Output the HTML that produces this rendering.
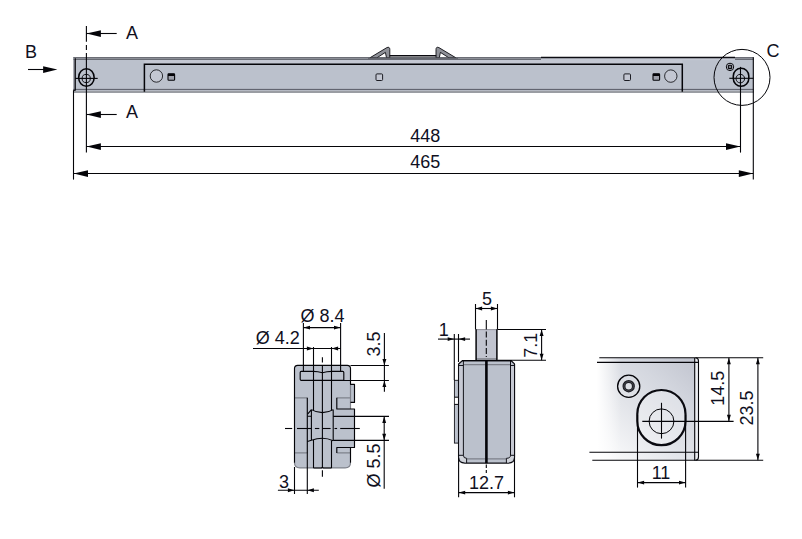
<!DOCTYPE html>
<html lang="en">
<head>
<meta charset="utf-8">
<title>Technical drawing</title>
<style>
html,body{margin:0;padding:0;background:#fff;}
body{width:802px;height:539px;overflow:hidden;}
svg{display:block;}
text{font-family:"Liberation Sans",sans-serif;}
</style>
</head>
<body>
<svg width="802" height="539" viewBox="0 0 802 539">
<defs>
<linearGradient id="gC" x1="0" y1="1" x2="1" y2="0">
<stop offset="0" stop-color="#ffffff"/>
<stop offset="0.2" stop-color="#f3f4f6"/>
<stop offset="0.45" stop-color="#e2e4e9"/>
<stop offset="0.7" stop-color="#d4d7df"/>
<stop offset="1" stop-color="#c0c3ce"/>
</linearGradient>
<linearGradient id="gC2" x1="0" y1="0" x2="1" y2="0">
<stop offset="0" stop-color="#ffffff" stop-opacity="1"/>
<stop offset="0.08" stop-color="#ffffff" stop-opacity="1"/>
<stop offset="0.3" stop-color="#ffffff" stop-opacity="0"/>
</linearGradient>
</defs>
<rect width="802" height="539" fill="#ffffff"/>
<g id="topview">
<rect x="73.5" y="57" width="680.1" height="36" fill="#bbc1cc"/>
<rect x="73.5" y="57" width="1.4" height="36" fill="#7a7c85"/>
<rect x="73.4" y="57" width="680.2" height="1" fill="#6c6e76"/>
<rect x="73.4" y="58" width="680.2" height="1" fill="#8b8e96"/>
<rect x="73.4" y="59" width="680.2" height="1" fill="#686b74"/>
<rect x="144.4" y="60" width="538" height="3.4" fill="#c4c8d3"/>
<rect x="73.4" y="88.9" width="680.2" height="1" fill="#4f525c"/>
<rect x="73.4" y="89.9" width="680.2" height="1" fill="#b9bdc7"/>
<rect x="73.4" y="90.9" width="680.2" height="2.1" fill="#9a9da3"/>
<path d="M369.9,57.8 L386.9,47.6 Q389.7,46.4 389.8,49.4 L389.8,57.8 L386.5,57.8 L385.4,52.4 L376.9,57.8 Z" fill="#8f9198" stroke="#0d0d12" stroke-width="0.9" stroke-linejoin="round"/>
<path d="M455.9,57.8 L438.9,47.6 Q436.1,46.4 436,49.4 L436,57.8 L439.3,57.8 L440.4,52.4 L448.9,57.8 Z" fill="#8f9198" stroke="#0d0d12" stroke-width="0.9" stroke-linejoin="round"/>
<line x1="389.6" y1="55.8" x2="436.2" y2="55.8" stroke="#0a0a10" stroke-width="1.6" />
<rect x="368" y="57.6" width="90" height="1.5" fill="#64666e"/>
<rect x="541" y="58" width="194" height="2.2" fill="#c4c8d3"/>
<line x1="541" y1="57.5" x2="735" y2="57.5" stroke="#0c0c12" stroke-width="1.3" />
<path d="M144.4,91.7 L144.4,64.2 L682.3,64.2 L682.3,91.7" fill="none" stroke="#040408" stroke-width="1.5"/>
<line x1="75.3" y1="58.3" x2="75.3" y2="90.6" stroke="#040408" stroke-width="1.1" />
<line x1="753.3" y1="57.3" x2="753.3" y2="92" stroke="#040408" stroke-width="1.1" />
<circle cx="156.4" cy="76" r="6.2" fill="#c3c7d2" stroke="#040408" stroke-width="0.8"/>
<circle cx="670.8" cy="76.1" r="6.2" fill="#c3c7d2" stroke="#040408" stroke-width="0.8"/>
<rect x="168" y="73.8" width="6.6" height="6.4" rx="0.8" fill="#9da0aa" stroke="#040408" stroke-width="1.1"/>
<rect x="168" y="73.8" width="6.6" height="2.2" fill="#040408"/>
<rect x="653" y="73.8" width="6.6" height="6.4" rx="0.8" fill="#9da0aa" stroke="#040408" stroke-width="1.1"/>
<rect x="653" y="73.8" width="6.6" height="2.2" fill="#040408"/>
<rect x="376" y="73.9" width="6.6" height="6.6" rx="1" fill="#c3c7d2" stroke="#1c1d24" stroke-width="1"/>
<rect x="623.9" y="73.9" width="6.6" height="6.6" rx="1" fill="#c3c7d2" stroke="#1c1d24" stroke-width="1"/>
<ellipse cx="86.4" cy="77.5" rx="7.75" ry="8.8" fill="none" stroke="#040408" stroke-width="1.55"/>
<circle cx="86.2" cy="78.5" r="4.1" fill="none" stroke="#111218" stroke-width="1"/>
<line x1="75.3" y1="78.4" x2="97.7" y2="78.4" stroke="#040408" stroke-width="1.1" />
<rect x="733.3" y="68.3" width="15.5" height="18" rx="7.75" ry="7.75" fill="none" stroke="#040408" stroke-width="1.55"/>
<circle cx="740.3" cy="78.6" r="4.3" fill="none" stroke="#111218" stroke-width="1"/>
<line x1="729.3" y1="78.3" x2="753.4" y2="78.3" stroke="#040408" stroke-width="1.1" />
<circle cx="730" cy="66.9" r="3.7" fill="#c6cad4" stroke="#040408" stroke-width="1"/>
<rect x="728.3" y="65.2" width="3.4" height="3.4" rx="1" fill="#7d8089" stroke="#040408" stroke-width="1.1"/>
<circle cx="742" cy="77.4" r="28" fill="none" stroke="#040408" stroke-width="1"/>
</g>
<line x1="86.4" y1="26" x2="86.4" y2="41.8" stroke="#040408" stroke-width="1.1" />
<line x1="86.4" y1="45" x2="86.4" y2="50" stroke="#040408" stroke-width="1.1" />
<line x1="86.4" y1="53" x2="86.4" y2="152.4" stroke="#040408" stroke-width="1.1" />
<line x1="86.4" y1="33.5" x2="116.7" y2="33.5" stroke="#040408" stroke-width="1.1" />
<polygon points="86.60,33.60 100.90,30.30 100.90,36.90" fill="#040408"/>
<line x1="86.4" y1="114.5" x2="116.7" y2="114.5" stroke="#040408" stroke-width="1.1" />
<polygon points="86.60,114.60 100.90,111.30 100.90,117.90" fill="#040408"/>
<text x="126" y="38.7" text-anchor="start" font-size="18" fill="#10101e">A</text>
<text x="126" y="117.9" text-anchor="start" font-size="18" fill="#10101e">A</text>
<text x="24.9" y="58.4" text-anchor="start" font-size="18" fill="#10101e">B</text>
<line x1="28" y1="69.5" x2="50" y2="69.5" stroke="#040408" stroke-width="1.1" />
<polygon points="57.40,69.60 43.10,66.30 43.10,72.90" fill="#040408"/>
<text x="766.4" y="56.5" text-anchor="start" font-size="18" fill="#10101e">C</text>
<line x1="73.5" y1="90.3" x2="73.5" y2="179.6" stroke="#040408" stroke-width="1.1" />
<line x1="73.5" y1="90.3" x2="75.3" y2="90.3" stroke="#040408" stroke-width="1.1" />
<line x1="740.5" y1="66.9" x2="740.5" y2="152.6" stroke="#040408" stroke-width="1.1" />
<line x1="753.3" y1="92" x2="753.3" y2="179.6" stroke="#040408" stroke-width="1.1" />
<line x1="86.4" y1="146.5" x2="740.5" y2="146.5" stroke="#040408" stroke-width="1.1" />
<polygon points="86.60,146.60 100.90,143.30 100.90,149.90" fill="#040408"/>
<polygon points="740.30,146.60 726.00,143.30 726.00,149.90" fill="#040408"/>
<line x1="73.5" y1="173.5" x2="753.3" y2="173.5" stroke="#040408" stroke-width="1.1" />
<polygon points="73.70,173.60 88.00,170.30 88.00,176.90" fill="#040408"/>
<polygon points="753.10,173.60 738.80,170.30 738.80,176.90" fill="#040408"/>
<text x="425.2" y="142.1" text-anchor="middle" font-size="18" fill="#10101e">448</text>
<text x="425.2" y="168.1" text-anchor="middle" font-size="18" fill="#10101e">465</text>
<g id="secA">
<path d="M297.7,365.3 H347.2 Q350.5,365.3 350.5,368.6 V384.3 H354.5 V402.4 H350.5 V409 H354.5 V447.5 H350.5 V462.6 Q350.5,467.9 345.2,467.9 H299.8 Q294.5,467.9 294.5,462.6 V368.6 Q294.5,365.3 297.7,365.3 Z" fill="#bbc1cc"/>
<path d="M350.5,462.6 Q350.5,467.9 345.2,467.9 H299.8 Q294.5,467.9 294.5,462.6" fill="none" stroke="#7f828b" stroke-width="1.2"/>
<path d="M294.5,397.8 H307.3 M336.8,397.8 H350.5 M294.5,452.9 H307.3 M336.8,452.9 H350.5 M350.5,384.3 V409" fill="none" stroke="#7f828b" stroke-width="1.2"/>
<path d="M294.5,462.8 V368.6 Q294.5,365.3 297.7,365.3 H347.2 Q350.5,365.3 350.5,368.6 V384.3 H354.5 V402.4 H350.5 M336.8,397.8 V409 H354.5 V447.5 H336.8 V452.9 M350.5,447.5 V462.8 M307.3,397.8 V453" fill="none" stroke="#040408" stroke-width="1.15" stroke-linejoin="round"/>
<path d="M301.3,371.4 H313.5 Q318,371.5 322.4,372.7 Q327,371.5 331.5,371.4 H342.7 Q343.8,371.4 343.8,372.5 V380.3 H301.3 Q300.2,380.3 300.2,379.2 V372.5 Q300.2,371.4 301.3,371.4 Z" fill="none" stroke="#040408" stroke-width="1.15"/>
<path d="M311.4,409.6 V440.3 M333.2,409.6 V440.8 M311.4,409.6 Q316.5,412.6 322.4,412.6 Q328.3,412.6 333.2,409.6 M311.4,440.3 Q317,438.3 322.4,438.3 Q327.8,438.3 333.2,440.8 M307.6,414.2 L311.4,409.6 M307.4,441.6 L311.4,440.3 M307.4,416.3 H311.4" fill="none" stroke="#040408" stroke-width="1.1"/>
<path d="M313.5,468 H321.6 L322.4,467.2 L323.2,468 H331.5" fill="none" stroke="#040408" stroke-width="1.1"/>
</g>
<line x1="303.4" y1="323" x2="303.4" y2="371.4" stroke="#040408" stroke-width="1.1" />
<line x1="340.6" y1="323" x2="340.6" y2="371.4" stroke="#040408" stroke-width="1.1" />
<line x1="313.5" y1="347" x2="313.5" y2="410.3" stroke="#040408" stroke-width="1.1" />
<line x1="331.5" y1="347" x2="331.5" y2="410.3" stroke="#040408" stroke-width="1.1" />
<line x1="313.5" y1="440" x2="313.5" y2="468" stroke="#040408" stroke-width="1.1" />
<line x1="331.5" y1="440.5" x2="331.5" y2="468" stroke="#040408" stroke-width="1.1" />
<line x1="322.4" y1="357.2" x2="322.4" y2="362.4" stroke="#040408" stroke-width="1.1" />
<line x1="322.4" y1="365.6" x2="322.4" y2="468" stroke="#040408" stroke-width="1.1" />
<line x1="322.4" y1="470.3" x2="322.4" y2="476.8" stroke="#040408" stroke-width="1.1" />
<line x1="285" y1="428.5" x2="292.2" y2="428.5" stroke="#040408" stroke-width="1.1" />
<line x1="297" y1="428.5" x2="311" y2="428.5" stroke="#040408" stroke-width="1.1" />
<line x1="314.9" y1="428.5" x2="319.3" y2="428.5" stroke="#040408" stroke-width="1.1" />
<line x1="322.3" y1="428.5" x2="330.6" y2="428.5" stroke="#040408" stroke-width="1.1" />
<line x1="334.5" y1="428.5" x2="337.1" y2="428.5" stroke="#040408" stroke-width="1.1" />
<line x1="340.2" y1="428.5" x2="359.8" y2="428.5" stroke="#040408" stroke-width="1.1" />
<line x1="303.4" y1="327.6" x2="340.6" y2="327.6" stroke="#040408" stroke-width="1.1" />
<polygon points="303.60,327.60 310.00,325.65 310.00,329.55" fill="#040408"/>
<polygon points="340.40,327.60 334.00,325.65 334.00,329.55" fill="#040408"/>
<text x="322.6" y="321.7" text-anchor="middle" font-size="18" fill="#10101e">Ø 8.4</text>
<line x1="253" y1="348.5" x2="340.6" y2="348.5" stroke="#040408" stroke-width="1.1" />
<polygon points="313.30,348.50 306.90,346.55 306.90,350.45" fill="#040408"/>
<polygon points="331.70,348.50 338.10,346.55 338.10,350.45" fill="#040408"/>
<text x="277.8" y="343.9" text-anchor="middle" font-size="18" fill="#10101e">Ø 4.2</text>
<line x1="350.5" y1="365.45" x2="388.9" y2="365.45" stroke="#040408" stroke-width="1.1" />
<line x1="343.8" y1="380.5" x2="388.9" y2="380.5" stroke="#040408" stroke-width="1.1" />
<line x1="384.4" y1="332.9" x2="384.4" y2="391.7" stroke="#040408" stroke-width="1.1" />
<polygon points="384.40,365.30 382.45,358.90 386.35,358.90" fill="#040408"/>
<polygon points="384.40,380.70 382.45,387.10 386.35,387.10" fill="#040408"/>
<text x="379.7" y="343.9" text-anchor="middle" font-size="18" fill="#10101e" transform="rotate(-90 379.7 343.9)">3.5</text>
<line x1="333.2" y1="416.4" x2="389" y2="416.4" stroke="#040408" stroke-width="1.1" />
<line x1="333.2" y1="440.4" x2="389" y2="440.4" stroke="#040408" stroke-width="1.1" />
<line x1="384.2" y1="416.4" x2="384.2" y2="488.8" stroke="#040408" stroke-width="1.1" />
<polygon points="384.20,416.60 382.25,423.00 386.15,423.00" fill="#040408"/>
<polygon points="384.20,440.20 382.25,433.80 386.15,433.80" fill="#040408"/>
<text x="379.6" y="465.4" text-anchor="middle" font-size="18" fill="#10101e" transform="rotate(-90 379.6 465.4)">Ø 5.5</text>
<line x1="294.5" y1="467" x2="294.5" y2="494" stroke="#040408" stroke-width="1.1" />
<line x1="307.3" y1="453" x2="307.3" y2="494" stroke="#040408" stroke-width="1.1" />
<line x1="277.9" y1="490.2" x2="318.8" y2="490.2" stroke="#040408" stroke-width="1.1" />
<polygon points="294.30,490.20 287.90,488.25 287.90,492.15" fill="#040408"/>
<polygon points="307.50,490.20 313.90,488.25 313.90,492.15" fill="#040408"/>
<text x="284" y="487.8" text-anchor="middle" font-size="18" fill="#10101e">3</text>
<g id="viewB">
<rect x="454.4" y="380.3" width="4.3" height="62.8" fill="#bbc1cc" stroke="#14151b" stroke-width="0.9"/>
<rect x="454.9" y="397.2" width="3.4" height="7.2" fill="#ffffff"/>
<path d="M454.4,397.2 H458.6 M454.4,404.4 H458.6" fill="none" stroke="#040408" stroke-width="1"/>
<rect x="476.2" y="329.6" width="20.6" height="31" fill="#c1c4cf"/>
<rect x="476.2" y="358" width="20.6" height="2.2" fill="#8e9099"/>
<line x1="476.2" y1="329.6" x2="496.8" y2="329.6" stroke="#6a6c75" stroke-width="0.7" />
<line x1="476.1" y1="329.2" x2="476.1" y2="360.4" stroke="#040408" stroke-width="1.5" />
<line x1="496.9" y1="329.2" x2="496.9" y2="360.4" stroke="#040408" stroke-width="1.5" />
<path d="M462.6,360.5 H510.9 L514.5,363.9 V457.3 Q514.5,463.1 508.4,463.1 H464.9 Q458.6,463.1 458.6,457.3 V363.9 L462.6,360.5 Z" fill="#bbc1cc" stroke="#0c0c12" stroke-width="1.25" stroke-linejoin="round"/>
<rect x="459.2" y="366" width="3.7" height="89" fill="#c7cad4"/>
<rect x="511" y="366" width="3" height="89" fill="#c7cad4"/>
<path d="M459.2,455.8 H463.4 Q463.6,458.3 466.6,458.5 V462.5 Q459.5,462.5 459.2,455.8 Z M514,455.8 H510.5 Q510.3,458.3 506.4,458.5 V462.5 Q513.7,462.5 514,455.8 Z" fill="#d0d3da"/>
<path d="M463.9,364.6 H510 M467,458.9 H506" fill="none" stroke="#7d8089" stroke-width="1.2"/>
<path d="M463.4,361 V455.3 Q463.4,458.3 466.6,458.3 V463 M510.5,361 V455.3 Q510.5,458.3 506.4,458.3 V463 M458.6,365.5 H463.4 M510.5,365.5 H514.5 M458.6,455.3 H463.4 M510.5,455.3 H514.5" fill="none" stroke="#0c0c12" stroke-width="0.95"/>
<line x1="462" y1="360.55" x2="511.5" y2="360.55" stroke="#040408" stroke-width="1.3" />
<line x1="486.4" y1="360.3" x2="486.4" y2="463.2" stroke="#040408" stroke-width="2.6" />
</g>
<line x1="486.3" y1="320" x2="486.3" y2="329.5" stroke="#040408" stroke-width="1.1" />
<line x1="486.3" y1="331.5" x2="486.3" y2="357" stroke="#040408" stroke-width="1.1" stroke-dasharray="6 2.2"/>
<line x1="486.3" y1="464.5" x2="486.3" y2="473" stroke="#040408" stroke-width="1.1" stroke-dasharray="3.5 2"/>
<line x1="475.5" y1="304" x2="475.5" y2="329.5" stroke="#040408" stroke-width="1.1" />
<line x1="497.5" y1="304" x2="497.5" y2="329.5" stroke="#040408" stroke-width="1.1" />
<line x1="475.5" y1="308.5" x2="497.5" y2="308.5" stroke="#040408" stroke-width="1.1" />
<polygon points="475.70,308.50 482.10,306.55 482.10,310.45" fill="#040408"/>
<polygon points="497.30,308.50 490.90,306.55 490.90,310.45" fill="#040408"/>
<text x="487" y="304.5" text-anchor="middle" font-size="18" fill="#10101e">5</text>
<line x1="454.3" y1="334" x2="454.3" y2="380" stroke="#040408" stroke-width="1.1" />
<line x1="458.5" y1="334" x2="458.5" y2="362" stroke="#040408" stroke-width="1.1" />
<line x1="438" y1="339.1" x2="470" y2="339.1" stroke="#040408" stroke-width="1.1" />
<polygon points="454.10,339.10 447.70,337.15 447.70,341.05" fill="#040408"/>
<polygon points="458.70,339.10 465.10,337.15 465.10,341.05" fill="#040408"/>
<text x="443.7" y="335.8" text-anchor="middle" font-size="18" fill="#10101e">1</text>
<line x1="497.5" y1="329.5" x2="546" y2="329.5" stroke="#040408" stroke-width="1.1" />
<line x1="497.5" y1="360.3" x2="546" y2="360.3" stroke="#040408" stroke-width="1.1" />
<line x1="541.6" y1="329.5" x2="541.6" y2="360.3" stroke="#040408" stroke-width="1.1" />
<polygon points="541.60,329.70 539.65,336.10 543.55,336.10" fill="#040408"/>
<polygon points="541.60,360.10 539.65,353.70 543.55,353.70" fill="#040408"/>
<text x="536.6" y="345.3" text-anchor="middle" font-size="18" fill="#10101e" transform="rotate(-90 536.6 345.3)">7.1</text>
<line x1="458.6" y1="458" x2="458.6" y2="497.3" stroke="#040408" stroke-width="1.1" />
<line x1="514.5" y1="458" x2="514.5" y2="497.3" stroke="#040408" stroke-width="1.1" />
<line x1="458.6" y1="492.6" x2="514.5" y2="492.6" stroke="#040408" stroke-width="1.1" />
<polygon points="458.80,492.60 465.20,490.65 465.20,494.55" fill="#040408"/>
<polygon points="514.30,492.60 507.90,490.65 507.90,494.55" fill="#040408"/>
<text x="486.6" y="488.6" text-anchor="middle" font-size="18" fill="#10101e">12.7</text>
<g id="detC">
<rect x="589" y="358" width="109.5" height="102" fill="url(#gC)"/>
<rect x="588" y="357" width="110.5" height="104" fill="url(#gC2)"/>
<rect x="694.7" y="358" width="3.8" height="102.4" fill="#eceef2"/>
<line x1="694.7" y1="358" x2="694.7" y2="460.4" stroke="#040408" stroke-width="1.1" />
<path d="M695.5,357.7 Q698.5,358 698.5,361 V457 Q698.5,460 695.5,460.3" fill="none" stroke="#040408" stroke-width="1.1"/>
<line x1="599.3" y1="357.7" x2="763.2" y2="357.7" stroke="#040408" stroke-width="1.1" />
<line x1="597" y1="362.4" x2="698.3" y2="362.4" stroke="#040408" stroke-width="1.1" />
<line x1="589.4" y1="452.2" x2="698.3" y2="452.2" stroke="#040408" stroke-width="1.1" />
<line x1="592.3" y1="460.3" x2="763.2" y2="460.3" stroke="#040408" stroke-width="1.1" />
<rect x="637.3" y="390" width="48.2" height="55.2" rx="24.1" ry="24.1" fill="#ffffff" fill-opacity="0.25" stroke="#0a0a10" stroke-width="2.2"/>
<circle cx="661.5" cy="421.3" r="12.4" fill="none" stroke="#040408" stroke-width="1"/>
<line x1="661.5" y1="402.8" x2="661.5" y2="438.6" stroke="#040408" stroke-width="1.1" />
<line x1="642.3" y1="421.4" x2="733.6" y2="421.4" stroke="#040408" stroke-width="1.1" />
<circle cx="628.7" cy="386.3" r="11.1" fill="none" stroke="#040408" stroke-width="1.3"/>
<circle cx="628.7" cy="386.2" r="4.7" fill="none" stroke="#1b1c22" stroke-width="3"/>
<circle cx="628.7" cy="386.2" r="4.7" fill="none" stroke="#6a6c74" stroke-width="0.5"/>
</g>
<line x1="637.5" y1="415" x2="637.5" y2="487.6" stroke="#040408" stroke-width="1.1" />
<line x1="685.6" y1="415" x2="685.6" y2="487.6" stroke="#040408" stroke-width="1.1" />
<line x1="637.5" y1="482.6" x2="685.6" y2="482.6" stroke="#040408" stroke-width="1.1" />
<polygon points="637.70,482.60 644.10,480.65 644.10,484.55" fill="#040408"/>
<polygon points="685.40,482.60 679.00,480.65 679.00,484.55" fill="#040408"/>
<text x="661" y="478.7" text-anchor="middle" font-size="18" fill="#10101e">11</text>
<line x1="728.9" y1="357.7" x2="728.9" y2="421.4" stroke="#040408" stroke-width="1.1" />
<polygon points="728.90,357.90 726.95,364.30 730.85,364.30" fill="#040408"/>
<polygon points="728.90,421.20 726.95,414.80 730.85,414.80" fill="#040408"/>
<text x="724.2" y="388.2" text-anchor="middle" font-size="18" fill="#10101e" transform="rotate(-90 724.2 388.2)">14.5</text>
<line x1="757.9" y1="357.7" x2="757.9" y2="460.3" stroke="#040408" stroke-width="1.1" />
<polygon points="757.90,357.90 755.95,364.30 759.85,364.30" fill="#040408"/>
<polygon points="757.90,460.10 755.95,453.70 759.85,453.70" fill="#040408"/>
<text x="753.4" y="407.9" text-anchor="middle" font-size="18" fill="#10101e" transform="rotate(-90 753.4 407.9)">23.5</text>
</svg>
</body>
</html>
